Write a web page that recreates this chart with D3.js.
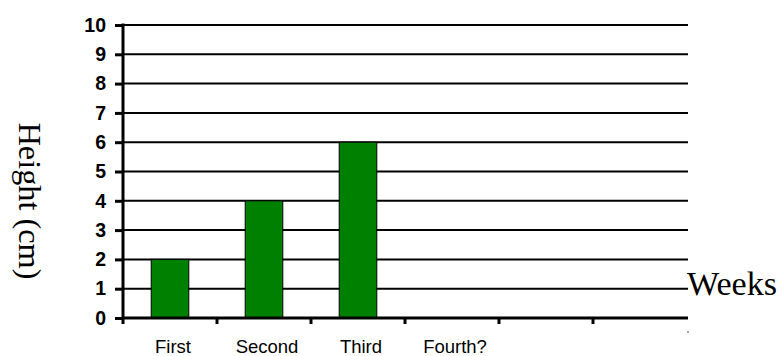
<!DOCTYPE html>
<html>
<head>
<meta charset="utf-8">
<script src="https://cdn.jsdelivr.net/npm/d3@7"></script>
<style>
  html, body { margin: 0; padding: 0; background: #fff; }
  svg { display: block; }
</style>
</head>
<body>
<svg id="chart" width="780" height="356"></svg>
<script>
const weeks = ["First", "Second", "Third", "Fourth?", "", ""];
const heights = [2, 4, 6, null, null, null];
const yTicks = [0, 1, 2, 3, 4, 5, 6, 7, 8, 9, 10];
const yTitle = "Height (cm)";
const xTitle = "Weeks";

(function () {
const svg = d3.select("#chart");
const pLeft = 123, pRight = 687, pTop = 25, pBottom = 318;

const x = d3.scaleBand().domain(d3.range(weeks.length)).range([pLeft, pRight]).paddingInner(0).paddingOuter(0);
const y = d3.scaleLinear().domain([0, 10]).range([pBottom, pTop]);

// gridlines
svg.append("g").selectAll("line").data(yTicks.filter(d => d > 0)).join("line")
  .attr("x1", pLeft).attr("x2", pRight + 1)
  .attr("y1", d => y(d)).attr("y2", d => y(d))
  .attr("stroke", "#000").attr("stroke-width", 2);

// bars
const bw = x.step() * 0.4;
svg.append("g").selectAll("rect").data(heights.map((v, i) => ({ v, i })).filter(d => d.v != null)).join("rect")
  .attr("x", d => x(d.i) + x.step() / 2 - bw / 2)
  .attr("y", d => y(d.v))
  .attr("width", bw)
  .attr("height", d => y(0) - y(d.v))
  .attr("fill", "#008000")
  .attr("stroke", "#000")
  .attr("stroke-width", 1);

// y axis
const yAxis = svg.append("g").attr("transform", `translate(${pLeft},0)`)
  .call(d3.axisLeft(y).tickValues(yTicks).tickSize(8).tickPadding(9).tickFormat(d3.format("d")));
yAxis.select(".domain").remove();
yAxis.selectAll(".tick line").attr("stroke", "#000").attr("stroke-width", 3);
yAxis.selectAll("text").attr("font-family", "Liberation Sans, Arial, sans-serif")
  .attr("font-size", 19.5).attr("font-weight", "bold").attr("fill", "#000");
yAxis.append("line").attr("x1", 0).attr("x2", 0).attr("y1", pTop - 1.5).attr("y2", pBottom + 6)
  .attr("stroke", "#000").attr("stroke-width", 3);

// x axis
const xAxis = svg.append("g").attr("transform", `translate(0,${pBottom})`)
  .call(d3.axisBottom(x).tickSize(0).tickPadding(22).tickFormat(i => weeks[i]));
xAxis.select(".domain").remove();
xAxis.selectAll(".tick text").attr("font-family", "Liberation Sans, Arial, sans-serif")
  .attr("font-size", 18.5).attr("fill", "#000").attr("dx", 3);
xAxis.append("line").attr("x1", pLeft).attr("x2", pRight + 1).attr("y1", 0).attr("y2", 0)
  .attr("stroke", "#000").attr("stroke-width", 3);
xAxis.selectAll("line.sep").data(d3.range(1, weeks.length)).join("line").attr("class", "sep")
  .attr("x1", i => x(i)).attr("x2", i => x(i)).attr("y1", 0).attr("y2", 6)
  .attr("stroke", "#000").attr("stroke-width", 3);

// tiny dash at axis end
svg.append("line").attr("x1", pRight).attr("x2", pRight + 2).attr("y1", 332).attr("y2", 332)
  .attr("stroke", "#555").attr("stroke-width", 1);

// titles
svg.append("text").attr("transform", "translate(19,201) rotate(90)")
  .attr("text-anchor", "middle").attr("font-family", "Liberation Serif, Times New Roman, serif")
  .attr("font-size", 32).attr("fill", "#000")
  .attr("textLength", 157).attr("lengthAdjust", "spacingAndGlyphs").text(yTitle);
svg.append("text").attr("x", 687).attr("y", 295)
  .attr("font-family", "Liberation Serif, Times New Roman, serif")
  .attr("font-size", 33).attr("fill", "#000")
  .attr("textLength", 90).attr("lengthAdjust", "spacingAndGlyphs").text(xTitle);
})();
</script>
</body>
</html>
